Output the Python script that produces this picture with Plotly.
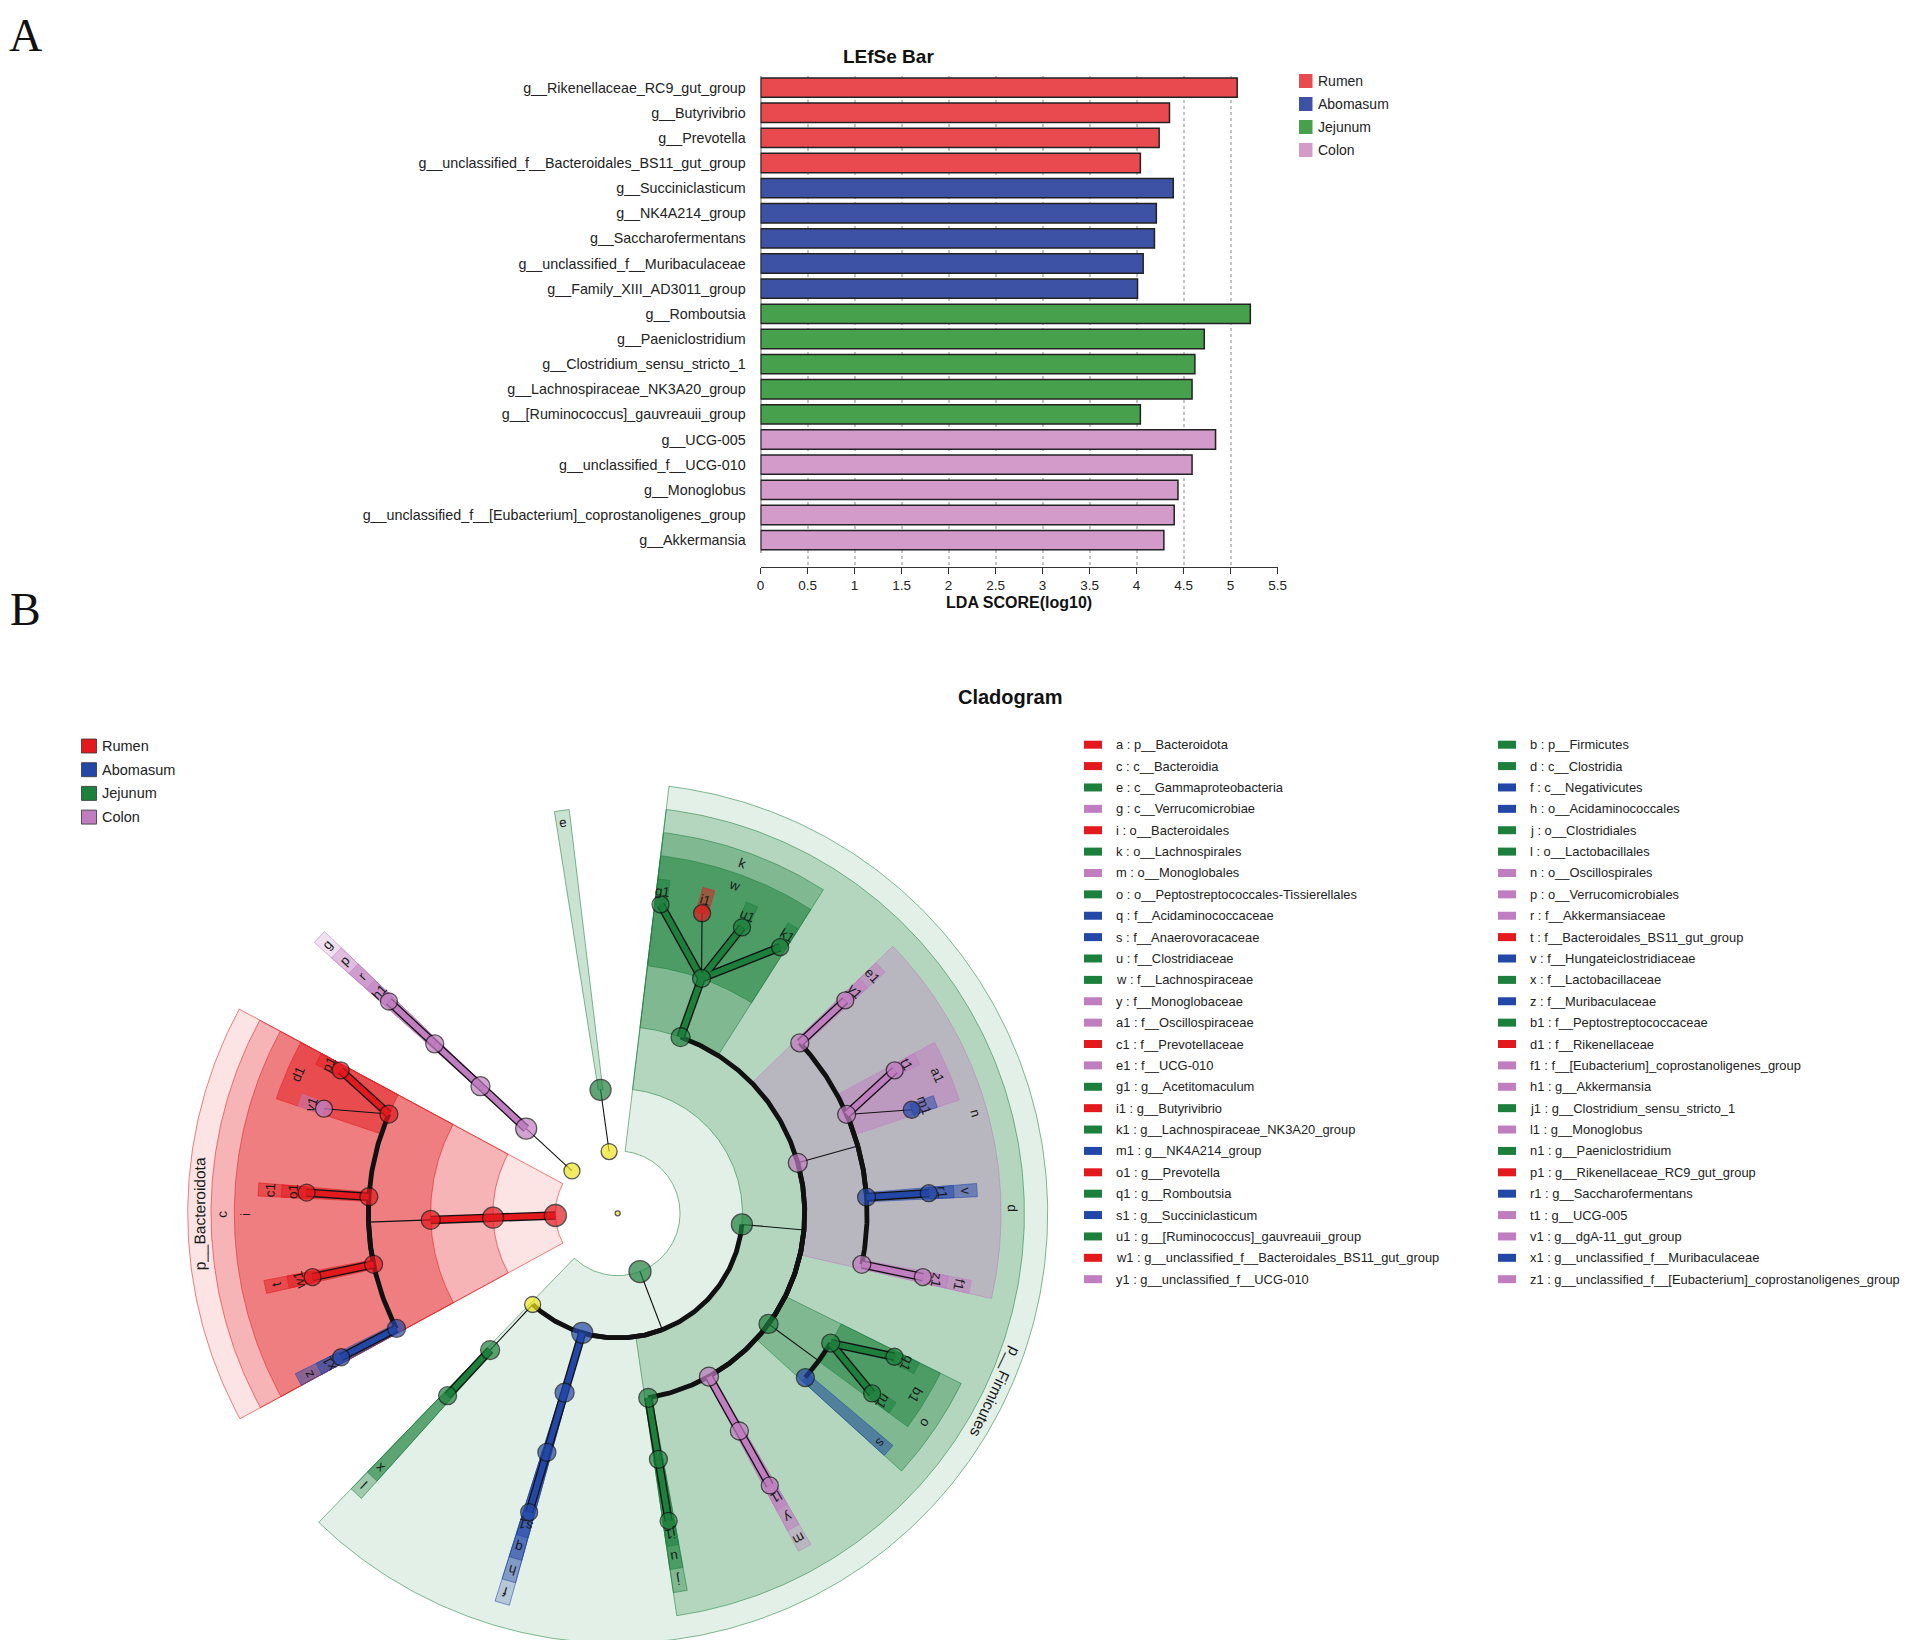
import numpy as np
import plotly.graph_objects as go

W, H = 1908, 1648
OFF = 8                      # page body margin of the written html
FW, FH = W - 2 * OFF, H - 2 * OFF
FONT = 'Liberation Sans, Arial, sans-serif'

groups = ['Rumen', 'Abomasum', 'Jejunum', 'Colon']
bar_color = {'Rumen': '#E94A4F', 'Abomasum': '#3E52A5', 'Jejunum': '#47A04B', 'Colon': '#D29BCA'}
node_color = {'Rumen': '#E3191E', 'Abomasum': '#2347A7', 'Jejunum': '#1C803C', 'Colon': '#C07DC0', None: '#EEE31F'}

# ---------------- A: LEfSe bar data ----------------
bar_taxa = ['g__Rikenellaceae_RC9_gut_group', 'g__Butyrivibrio', 'g__Prevotella',
            'g__unclassified_f__Bacteroidales_BS11_gut_group', 'g__Succiniclasticum',
            'g__NK4A214_group', 'g__Saccharofermentans', 'g__unclassified_f__Muribaculaceae',
            'g__Family_XIII_AD3011_group', 'g__Romboutsia', 'g__Paeniclostridium',
            'g__Clostridium_sensu_stricto_1', 'g__Lachnospiraceae_NK3A20_group',
            'g__[Ruminococcus]_gauvreauii_group', 'g__UCG-005', 'g__unclassified_f__UCG-010',
            'g__Monoglobus', 'g__unclassified_f__[Eubacterium]_coprostanoligenes_group',
            'g__Akkermansia']
bar_lda = [5.07, 4.35, 4.24, 4.04, 4.39, 4.21, 4.19, 4.07, 4.01,
           5.21, 4.72, 4.62, 4.59, 4.04, 4.84, 4.59, 4.44, 4.40, 4.29]
bar_class = ['Rumen'] * 4 + ['Abomasum'] * 5 + ['Jejunum'] * 5 + ['Colon'] * 5
lda_ticks = [0, 0.5, 1, 1.5, 2, 2.5, 3, 3.5, 4, 4.5, 5, 5.5]

# ---------------- B: cladogram data ----------------
legend_taxon = ['p__Bacteroidota', 'p__Firmicutes', 'c__Bacteroidia', 'c__Clostridia',
                'c__Gammaproteobacteria', 'c__Negativicutes', 'c__Verrucomicrobiae',
                'o__Acidaminococcales', 'o__Bacteroidales', 'o__Clostridiales', 'o__Lachnospirales',
                'o__Lactobacillales', 'o__Monoglobales', 'o__Oscillospirales',
                'o__Peptostreptococcales-Tissierellales', 'o__Verrucomicrobiales',
                'f__Acidaminococcaceae', 'f__Akkermansiaceae', 'f__Anaerovoracaceae',
                'f__Bacteroidales_BS11_gut_group', 'f__Clostridiaceae', 'f__Hungateiclostridiaceae',
                'f__Lachnospiraceae', 'f__Lactobacillaceae', 'f__Monoglobaceae', 'f__Muribaculaceae',
                'f__Oscillospiraceae', 'f__Peptostreptococcaceae', 'f__Prevotellaceae',
                'f__Rikenellaceae', 'f__UCG-010', 'f__[Eubacterium]_coprostanoligenes_group',
                'g__Acetitomaculum', 'g__Akkermansia', 'g__Butyrivibrio',
                'g__Clostridium_sensu_stricto_1', 'g__Lachnospiraceae_NK3A20_group', 'g__Monoglobus',
                'g__NK4A214_group', 'g__Paeniclostridium', 'g__Prevotella',
                'g__Rikenellaceae_RC9_gut_group', 'g__Romboutsia', 'g__Saccharofermentans',
                'g__Succiniclasticum', 'g__UCG-005', 'g__[Ruminococcus]_gauvreauii_group',
                'g__dgA-11_gut_group', 'g__unclassified_f__Bacteroidales_BS11_gut_group',
                'g__unclassified_f__Muribaculaceae', 'g__unclassified_f__UCG-010',
                'g__unclassified_f__[Eubacterium]_coprostanoligenes_group']
letters = 'abcdefghijklmnopqrstuvwxyz'
legend_code = list(letters) + [c + '1' for c in letters]

clade_node = ['a', 'p__Verrucomicrobiota', 'p__Proteobacteria', 'b',
              'c', 'g', 'e', 'c__Bacilli', 'f', 'd',
              'i', 'p', 'l', 'h', 'k', 'n', 'o', 'm', 'j',
              'd1', 'c1', 't', 'z', 'r', 'x', 'q', 'w', 'e1', 'a1', 'v', 'f1', 'b1', 's', 'y', 'u',
              'p1', 'v1', 'o1', 'w1', 'x1', 'h1', 's1', 'g1', 'i1', 'u1', 'k1', 'y1', 't1', 'm1',
              'r1', 'z1', 'q1', 'n1', 'l1', 'j1']
clade_parent = ['root', 'root', 'root', 'root',
                'a', 'p__Verrucomicrobiota', 'p__Proteobacteria', 'b', 'b', 'b',
                'c', 'g', 'c__Bacilli', 'f', 'd', 'd', 'd', 'd', 'd',
                'i', 'i', 'i', 'i', 'p', 'l', 'h', 'k', 'n', 'n', 'n', 'n', 'o', 'o', 'm', 'j',
                'd1', 'd1', 'c1', 't', 'z', 'r', 'q', 'w', 'w', 'w', 'w', 'e1', 'a1', 'a1',
                'v', 'f1', 'b1', 'b1', 'y', 'u']
clade_class = ['Rumen', None, None, 'Jejunum',
               'Rumen', 'Colon', 'Jejunum', None, 'Abomasum', 'Jejunum',
               'Rumen', 'Colon', 'Jejunum', 'Abomasum', 'Jejunum', 'Colon', 'Jejunum', 'Colon', 'Jejunum',
               'Rumen', 'Rumen', 'Rumen', 'Abomasum', 'Colon', 'Jejunum', 'Abomasum', 'Jejunum',
               'Colon', 'Colon', 'Abomasum', 'Colon', 'Jejunum', 'Abomasum', 'Colon', 'Jejunum',
               'Rumen', 'Colon', 'Rumen', 'Rumen', 'Abomasum', 'Colon', 'Abomasum', 'Jejunum',
               'Rumen', 'Jejunum', 'Jejunum', 'Colon', 'Colon', 'Abomasum', 'Abomasum', 'Colon',
               'Jejunum', 'Jejunum', 'Colon', 'Jejunum']
# angular position (degrees, counter-clockwise from east) of the outermost shown clades
leaf_node = ['p1', 'v1', 'o1', 'w1', 'x1', 'h1', 'e', 'x', 's1', 'g1', 'i1', 'u1', 'k1',
             'y1', 't1', 'm1', 'r1', 'z1', 'q1', 'n1', 's', 'l1', 'j1']
leaf_angle = [152.7, 160.4, 176.2, 191.8, 207.5, 137.2, 97.9, -133.0, -106.5, 82.1, 74.3,
              66.5, 58.6, 43.1, 27.3, 19.4, 3.7, -11.8, -27.4, -35.3, -41.2, -60.8, -80.6]


def px(x):
    return (x - OFF) / FW


def py(y):
    return 1 - (y - OFF) / FH


def rgba(hexc, a):
    hexc = hexc.lstrip('#')
    r, g, b = int(hexc[0:2], 16), int(hexc[2:4], 16), int(hexc[4:6], 16)
    return f'rgba({r},{g},{b},{a})'


def paper_text(text, x, y, size, anchor='center', color='#222', family=FONT):
    return dict(text=text, x=px(x), y=py(y), xref='paper', yref='paper', showarrow=False,
                xanchor=anchor, yanchor='middle', font=dict(size=size, color=color, family=family))


fig = go.Figure()

# ---------------- bar chart ----------------
fig.add_trace(go.Bar(
    x=bar_lda, y=bar_taxa, orientation='h',
    marker=dict(color=[bar_color[c] for c in bar_class], line=dict(color='#222', width=1.5)),
    xaxis='x', yaxis='y', showlegend=False, hoverinfo='x+y'))

shapes = []
annotations = []
shapes.append(dict(type='line', xref='x', yref='y', x0=0, x1=0, y0=-0.51, y1=18.46,
                   line=dict(color='#333', width=1.5)))
annotations.append(paper_text('<b>LEfSe Bar</b>', 888, 56, 19, color='#111'))
for k, g in enumerate(groups):
    yc = 81 + 23 * k
    shapes.append(dict(type='rect', xref='paper', yref='paper', x0=px(1299), x1=px(1312.5),
                       y0=py(yc - 7), y1=py(yc + 7), fillcolor=bar_color[g], line=dict(width=0)))
    annotations.append(paper_text(g, 1316, yc, 14, anchor='left'))

# panel letters
for lab, yy in [('A', 35), ('B', 609)]:
    annotations.append(paper_text(lab, 25, yy, 46, color='#111',
                                  family='Liberation Serif, Times New Roman, serif'))

# ---------------- cladogram ----------------
CX, CY = 617.7, 1213.3
R_STEP = 62.35
HW = 1.05
ALPHA = {1: 0.12, 2: 0.23, 3: 0.35, 4: 0.5, 5: 0.5}


def rad(level):
    return level * R_STEP


def outer(level):
    return 430 - (level - 1) * 23.3


def xy(r, deg):
    t = np.radians(np.asarray(deg, dtype=float))
    return r * np.cos(t), r * np.sin(t)


children = {'root': []}
level = {'root': 0}
cls = dict(zip(clade_node, clade_class))
for n, p in zip(clade_node, clade_parent):
    children.setdefault(n, [])
    children[p].append(n)
    level[n] = level[p] + 1
parent = dict(zip(clade_node, clade_parent))
leaf = dict(zip(leaf_node, leaf_angle))


def node_angle(n):
    if n in leaf:
        return leaf[n]
    a = [node_angle(c) for c in children[n]]
    return (min(a) + max(a)) / 2


def node_span(n):
    if n in leaf:
        return leaf[n], leaf[n]
    s = [node_span(c) for c in children[n]]
    return min(v[0] for v in s), max(v[1] for v in s)


ang = {n: node_angle(n) for n in clade_node}
code_name = dict(zip(legend_code, legend_taxon))

# background sectors, layered by level
for lv in range(1, 6):
    for g in groups:
        xs, ys = [], []
        for n in clade_node:
            if level[n] != lv or cls[n] != g:
                continue
            a0, a1 = node_span(n)
            a0, a1 = a0 - HW, a1 + HW
            ts = np.linspace(a0, a1, max(int((a1 - a0) * 2) + 2, 3))
            xo, yo = xy(outer(lv), ts)
            xi, yi = xy(rad(lv), ts[::-1])
            xs += list(xo) + list(xi) + [xo[0], None]
            ys += list(yo) + list(yi) + [yo[0], None]
        if xs:
            fig.add_trace(go.Scatter(x=xs, y=ys, mode='lines', fill='toself',
                                     fillcolor=rgba(node_color[g], ALPHA[lv]),
                                     line=dict(color=rgba(node_color[g], 0.55), width=1),
                                     xaxis='x2', yaxis='y2', hoverinfo='skip', showlegend=False))

# branches
thin_x, thin_y, arc_x, arc_y = [], [], [], []
thick = {g: ([], []) for g in groups}
stem_done = set()
for n in clade_node:
    p = parent[n]
    if p == 'root':
        continue
    rp, ap, rn, an = rad(level[p]), ang[p], rad(level[n]), ang[n]
    same = cls[n] is not None and cls[n] == cls[p]
    if level[n] == 5 or len(children[p]) == 1:
        x0, y0 = xy(rp, ap)
        x1, y1 = xy(rn, an)
        if same:
            thick[cls[n]][0].extend([float(x0), float(x1), None])
            thick[cls[n]][1].extend([float(y0), float(y1), None])
        else:
            thin_x += [float(x0), float(x1), None]
            thin_y += [float(y0), float(y1), None]
    else:
        if p not in stem_done:
            x0, y0 = xy(rp, ap)
            x1, y1 = xy(rn, ap)
            thin_x += [float(x0), float(x1), None]
            thin_y += [float(y0), float(y1), None]
            stem_done.add(p)
        ts = np.linspace(ap, an, max(int(abs(an - ap) * 2) + 2, 2))
        xa, ya = xy(rn, ts)
        arc_x += list(xa) + [None]
        arc_y += list(ya) + [None]

fig.add_trace(go.Scatter(x=thin_x, y=thin_y, mode='lines', line=dict(color='#111', width=1.1),
                         xaxis='x2', yaxis='y2', hoverinfo='skip', showlegend=False))
fig.add_trace(go.Scatter(x=arc_x, y=arc_y, mode='lines', line=dict(color='#111', width=4.8),
                         xaxis='x2', yaxis='y2', hoverinfo='skip', showlegend=False))
for g in groups:
    tx, ty = thick[g]
    if tx:
        fig.add_trace(go.Scatter(x=tx, y=ty, mode='lines', line=dict(color='#111', width=8.5),
                                 xaxis='x2', yaxis='y2', hoverinfo='skip', showlegend=False))
        fig.add_trace(go.Scatter(x=tx, y=ty, mode='lines', line=dict(color=node_color[g], width=5.8),
                                 xaxis='x2', yaxis='y2', hoverinfo='skip', showlegend=False))

# nodes
size_by_level = {1: 22, 2: 21, 3: 19, 4: 18, 5: 17}
nx, ny, nc, ns, nt = [0.0], [0.0], [node_color[None]], [5], ['root']
for n in clade_node:
    x0, y0 = xy(rad(level[n]), ang[n])
    nx.append(float(x0))
    ny.append(float(y0))
    nc.append(node_color[cls[n]])
    ns.append(16 if cls[n] is None else size_by_level[level[n]])
    nt.append(code_name.get(n, n))
fig.add_trace(go.Scatter(x=nx, y=ny, mode='markers', text=nt, hoverinfo='text',
                         marker=dict(color=nc, size=ns, line=dict(color='#111', width=1.3)),
                         xaxis='x2', yaxis='y2', showlegend=False))

# clade labels
for n in clade_node:
    if cls[n] is None:
        continue
    a0, a1 = node_span(n)
    mid = (a0 + a1) / 2
    r = outer(level[n]) - 11.65
    lx, ly = xy(r, mid)
    t = 90 - mid
    while t > 180:
        t -= 360
    while t <= -180:
        t += 360
    txt = code_name[n] if level[n] == 1 else n
    annotations.append(dict(text=txt, x=float(lx), y=float(ly), xref='x2', yref='y2',
                            showarrow=False, textangle=t, xanchor='center', yanchor='middle',
                            font=dict(size=15.5 if level[n] == 1 else 13.5, color='#1a1a1a')))

annotations.append(paper_text('<b>Cladogram</b>', 1010, 697, 20, color='#111'))

# left legend
for k, g in enumerate(groups):
    yc = 746 + 23.7 * k
    shapes.append(dict(type='rect', xref='paper', yref='paper', x0=px(81.5), x1=px(96.5),
                       y0=py(yc - 7), y1=py(yc + 7), fillcolor=node_color[g],
                       line=dict(color='#333', width=0.8)))
    annotations.append(paper_text(g, 100, yc, 14.5, anchor='left'))

# right legend (two columns)
for k, (code, taxon) in enumerate(zip(legend_code, legend_taxon)):
    col, row = k % 2, k // 2
    yc = 744.7 + 21.38 * row
    x_rect = 1084 if col == 0 else 1498
    x_text = 1114 if col == 0 else 1527.5
    shapes.append(dict(type='rect', xref='paper', yref='paper', x0=px(x_rect), x1=px(x_rect + 18),
                       y0=py(yc - 4), y1=py(yc + 4), fillcolor=node_color[cls[code]],
                       line=dict(width=0)))
    annotations.append(paper_text(f'{code} : {taxon}', x_text, yc, 12.9, anchor='left'))

fig.update_layout(
    template='none',
    width=FW, height=FH,
    margin=dict(l=0, r=0, t=0, b=0),
    paper_bgcolor='white', plot_bgcolor='rgba(0,0,0,0)',
    font=dict(family=FONT, color='#222'),
    bargap=0.23,
    xaxis=dict(domain=[px(760.6), px(1277.6)], range=[0, 5.5], anchor='y',
               tickvals=lda_ticks, showgrid=True, gridcolor='#C4C4C4', griddash='dot', gridwidth=1.6,
               zeroline=False, showline=True, linecolor='#333', linewidth=1.4,
               ticks='outside', ticklen=6, tickwidth=1.2, tickcolor='#333',
               tickfont=dict(size=13.5, color='#222'), automargin=False, fixedrange=True,
               title=dict(text='<b>LDA SCORE(log10)</b>', font=dict(size=16, color='#111'), standoff=4)),
    yaxis=dict(domain=[py(567), py(76)], type='category', categoryorder='array',
               categoryarray=bar_taxa[::-1], range=[-1.07, 18.46], anchor='x',
               showgrid=False, zeroline=False, showline=False, ticks='outside', ticklen=11,
               tickcolor='rgba(0,0,0,0)', tickfont=dict(size=14.3, color='#222'),
               automargin=False, fixedrange=True),
    xaxis2=dict(domain=[0, 1], range=[OFF - CX, OFF + FW - CX], visible=False, anchor='y2',
                fixedrange=True),
    yaxis2=dict(domain=[0, 1], range=[CY - OFF - FH, CY - OFF], visible=False, anchor='x2',
                fixedrange=True),
    shapes=shapes, annotations=annotations,
)

fig.write_html('out.html')
